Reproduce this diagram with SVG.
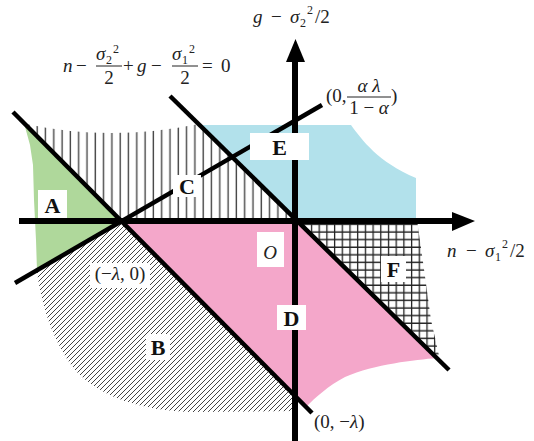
<svg xmlns="http://www.w3.org/2000/svg" width="534" height="441" viewBox="0 0 534 441">
<style>
.t{font-family:"Liberation Serif","DejaVu Serif",serif;fill:#222}
.m{font-size:19px}
.i{font-style:italic}
.s{font-size:12px}
.L{font-size:22px;font-weight:bold;text-anchor:middle;fill:#111}
.ln{stroke:#000;stroke-width:4.5;fill:none;stroke-linecap:butt}
.ax{stroke:#000;stroke-width:6;fill:none}
.bar{stroke:#222;stroke-width:1}
.box{fill:#fff}
</style>
<defs>
<pattern id="vh" patternUnits="userSpaceOnUse" width="8.3" height="8"><line x1="4" y1="0" x2="4" y2="8" stroke="#444" stroke-width="1.4"/></pattern>
<pattern id="xh" patternUnits="userSpaceOnUse" width="7.7" height="7.6"><path d="M3.5,0 V7.6 M0,4 H7.7" stroke="#222" stroke-width="1.3"/></pattern>
<pattern id="dh" patternUnits="userSpaceOnUse" width="5" height="5"><path d="M-1,1 L1,-1 M0,5 L5,0 M4,6 L6,4" stroke="#444" stroke-width="1"/></pattern>
</defs>
<rect width="534" height="441" fill="#fff"/>
<g id="regions">
<polygon id="regionA" fill="#afd89b" points="24,123 122,221 37,271 36,240 34,200 33,165 30,145"/>
<path id="regionC" fill="url(#vh)" d="M26,124 Q110,142 199,124 L295,220 L122,221 Z"/>
<path id="regionE" fill="#b2e1eb" d="M199,125 L351,125 C362,140 378,162 416,178 L416,221 L295,221 Z"/>
<path id="regionD" fill="#f4a7ca" d="M122,221 L295,220 L437,358 C415,360 375,364 345,377 C328,386 316,397 306,407 Z"/>
<polygon id="regionF" fill="url(#xh)" points="295,220 417,220 423,262 431,320 440,360"/>
<path id="regionB" fill="url(#dh)" d="M37,272 L122,221 L296,397 L296,411 L190,412 C140,410 100,397 75,370 C55,345 42,310 37,272 Z"/>
</g>
<g id="connectors">
<line class="ln" x1="13" y1="112" x2="312" y2="413"/>
<line class="ln" x1="170" y1="96" x2="449" y2="370"/>
<line class="ln" x1="15" y1="283" x2="322" y2="105"/>
<line class="ax" x1="19" y1="221" x2="454" y2="221"/>
<polygon points="452,212 452,231 475,221" fill="#000"/>
<line class="ax" x1="295" y1="441" x2="295" y2="60"/>
<polygon points="286,62 305,62 295.5,39" fill="#000"/>
</g>
<g id="labelA"><rect class="box" x="38" y="190" width="29" height="28"/><text class="t L" x="52.5" y="213">A</text></g>
<g id="labelC"><rect class="box" x="173" y="175" width="28" height="22"/><text class="t L" x="187" y="194">C</text></g>
<g id="labelE"><rect class="box" x="250" y="133" width="59" height="27"/><text class="t L" x="279.5" y="155">E</text></g>
<g id="labelB"><rect class="box" x="146" y="334" width="24" height="26"/><text class="t L" x="158" y="355">B</text></g>
<g id="labelD"><rect class="box" x="277" y="305" width="29" height="25"/><text class="t L" x="291.5" y="326">D</text></g>
<g id="labelF"><rect class="box" x="381" y="256" width="25" height="26"/><text class="t L" x="393.5" y="277">F</text></g>
<g id="labelO"><rect class="box" x="257" y="232" width="27" height="35"/><text class="t m i" x="270" y="259" text-anchor="middle">O</text></g>
<g id="labelNegLambda0"><rect class="box" x="90" y="263" width="60" height="25"/><text class="t m" x="120" y="280" text-anchor="middle">(−<tspan class="i">λ</tspan>, 0)</text></g>
<g id="label0NegLambda"><text class="t m" x="314" y="428">(0, −<tspan class="i">λ</tspan>)</text></g>
<g id="labelIntercept">
<text class="t m" x="326" y="102">(0,</text>
<text class="t m i" x="369" y="92" text-anchor="middle">α λ</text>
<line class="bar" x1="347" y1="97" x2="391" y2="97"/>
<text class="t m" x="369" y="114" text-anchor="middle">1 − <tspan class="i">α</tspan></text>
<text class="t m" x="391" y="102">)</text>
</g>
<g id="labelXaxis">
<text class="t m i" x="447" y="257">n</text>
<text class="t m" x="466" y="257">−</text>
<text class="t m i" x="485" y="257">σ</text>
<text class="t s" x="495" y="261">1</text>
<text class="t s" x="502" y="248">2</text>
<text class="t m" x="510" y="257">/2</text>
</g>
<g id="labelYaxis">
<text class="t m i" x="253" y="23">g</text>
<text class="t m" x="271" y="23">−</text>
<text class="t m i" x="290" y="23">σ</text>
<text class="t s" x="300" y="27">2</text>
<text class="t s" x="307" y="14">2</text>
<text class="t m" x="315" y="23">/2</text>
</g>
<g id="labelEquation">
<text class="t m i" x="63" y="72">n</text>
<text class="t m" x="76" y="72">−</text>
<text class="t m i" x="96" y="60">σ</text>
<text class="t s" x="106" y="64">2</text>
<text class="t s" x="113" y="53">2</text>
<line class="bar" x1="96" y1="66" x2="122" y2="66"/>
<text class="t m" x="109" y="84" text-anchor="middle">2</text>
<text class="t m" x="123" y="72">+</text>
<text class="t m i" x="137" y="72">g</text>
<text class="t m" x="151" y="72">−</text>
<text class="t m i" x="172" y="60">σ</text>
<text class="t s" x="182" y="64">1</text>
<text class="t s" x="189" y="53">2</text>
<line class="bar" x1="172" y1="66" x2="198" y2="66"/>
<text class="t m" x="185" y="84" text-anchor="middle">2</text>
<text class="t m" x="202" y="72">=</text>
<text class="t m" x="221" y="72">0</text>
</g>
</svg>
